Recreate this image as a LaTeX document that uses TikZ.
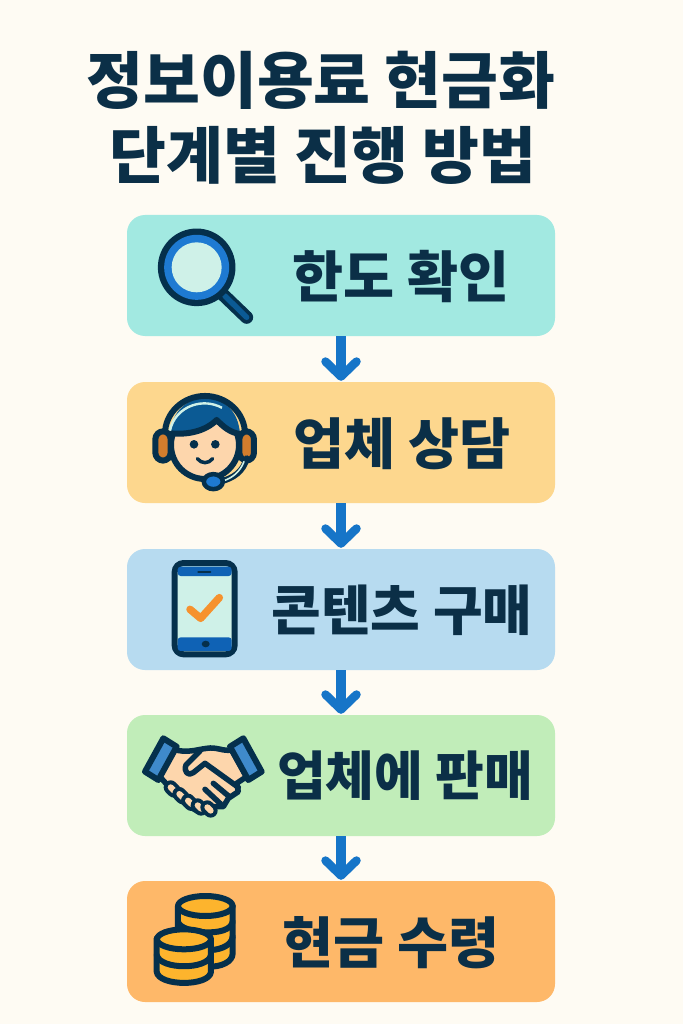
\documentclass[tikz,border=0pt]{standalone}
\usepackage{fontspec}
\usetikzlibrary{arrows.meta}
\newfontfamily\krfont{Noto Sans CJK KR}
\definecolor{bgc}{HTML}{FEFBF3}
\definecolor{ink}{HTML}{0B2F47}
\definecolor{inkb}{HTML}{05304C}
\definecolor{arrowc}{HTML}{1675C8}
\definecolor{cteal}{HTML}{A2E9E1}
\definecolor{cpeach}{HTML}{FDD78E}
\definecolor{csky}{HTML}{B7DBF0}
\definecolor{cgreen}{HTML}{C1EDB9}
\definecolor{corange}{HTML}{FEB869}
\definecolor{ibl}{HTML}{1E7AD2}
\definecolor{idb}{HTML}{0B5A94}
\definecolor{ilens}{HTML}{CFF1E8}
\definecolor{iskin}{HTML}{FDD6AC}
\definecolor{iear}{HTML}{D27D2D}
\definecolor{imid}{HTML}{3F8ACB}
\definecolor{iphone}{HTML}{0F62B5}
\definecolor{icheck}{HTML}{F6922E}
\definecolor{icoin}{HTML}{FDB42D}
\tikzset{
  stepbox/.style={rectangle,rounded corners=18pt,minimum width=428pt,minimum height=121pt,inner sep=0pt,draw=none},
  titletext/.style={text=ink,font=\krfont\bfseries\fontsize{61.8}{66}\selectfont,inner sep=0pt},
  labeltext/.style={text=ink,font=\krfont\bfseries\fontsize{55.5}{60}\selectfont,inner sep=0pt},
  labeltight/.style={text=ink,font=\krfont\bfseries\fontsize{54}{60}\selectfont,inner sep=0pt},
  labelnarrow/.style={text=ink,font=\krfont\bfseries\fontsize{53}{60}\selectfont,inner sep=0pt},
  flow/.style={draw=arrowc,line width=9.5pt,-{Straight Barb[round,length=15pt,width=31pt,line width=8.5pt]},shorten >=1pt},
  ic/.style={draw=inkb,line width=6pt,line join=round,line cap=round},
  zoomed/.style={x=0.3333pt,y=-0.3333pt}
}
\begin{document}
\begin{tikzpicture}[x=1pt,y=-1pt]
\fill[bgc] (0,0) rectangle (683,1024);
\useasboundingbox (0,0) rectangle (683,1024);
\node[titletext] (t1) at (321,80) {정보이용료 현금화};
\node[titletext] (t2) at (323,155) {단계별 진행 방법};
\node[stepbox,fill=cteal] (b1) at (341,275.5) {};
\node[stepbox,fill=cpeach] (b2) at (341,442.5) {};
\node[stepbox,fill=csky] (b3) at (341,609.5) {};
\node[stepbox,fill=cgreen] (b4) at (341,775.5) {};
\node[stepbox,fill=corange] (b5) at (341,941.5) {};
\node[labeltext] (l1) at (401,277) {한도 확인};
\node[labeltext] (l2) at (402,444) {업체 상담};
\node[labeltight] (l3) at (402,610) {콘텐츠 구매};
\node[labelnarrow] (l4) at (405,776) {업체에 판매};
\node[labeltext] (l5) at (391,943) {현금 수령};
\draw[flow] (b1.south) -- (b2.north);
\draw[flow] (b2.south) -- (b3.north);
\draw[flow] (b3.south) -- (b4.north);
\draw[flow] (b4.south) -- (b5.north);
% magnifier
\begin{scope}[shift={(130,210)},zoomed]
\draw[inkb,line width=13pt,line cap=round] (275,250) -- (350,322);
\draw[idb,line width=5.5pt,line cap=round] (285,258) -- (350,322);
\fill[inkb] (200,172) circle [radius=38.8pt];
\fill[ibl] (200,172) circle [radius=32.5pt];
\fill[ilens] (200,172) circle [radius=25pt];
\end{scope}
% headset
\begin{scope}[shift={(130,210)},zoomed]
\draw[ic,fill=iskin] (225,705) circle [radius=34pt];
\fill[idb] (122,670) .. controls (125,600) and (175,565) .. (225,565) .. controls (280,565) and (325,600) .. (330,672) .. controls (300,668) and (280,650) .. (260,630) .. controls (225,665) and (170,675) .. (122,670) -- cycle;
\draw[ic] (122,670) .. controls (170,675) and (225,665) .. (260,630) .. controls (280,650) and (300,668) .. (330,672);
\draw[draw=inkb,line width=6pt] (105,672) arc [start angle=180,end angle=0,x radius=40pt,y radius=38pt];
\draw[ilens,line width=2.4pt] (120,662) arc [start angle=170,end angle=60,x radius=35pt,y radius=33pt];
\draw[ic,fill=iear,rounded corners=8pt] (76,664) rectangle (122,752);
\draw[ic,fill=iear,rounded corners=8pt] (328,664) rectangle (372,752);
\fill[inkb] (192,703) circle [radius=4.3pt];
\fill[inkb] (256,703) circle [radius=4.3pt];
\draw[inkb,line width=3.5pt,line cap=round] (202,746) .. controls (215,762) and (235,762) .. (248,746);
\draw[inkb,line width=6pt,line cap=round] (270,815) .. controls (310,805) and (340,785) .. (350,745);
\draw[ilens,line width=1.6pt,line cap=round] (280,813) .. controls (310,802) and (330,785) .. (342,755);
\draw[ic,fill=ibl,line width=4.5pt] (250,815) ellipse [x radius=9.5pt,y radius=7.5pt];
\end{scope}
% phone
\begin{scope}[shift={(130,550)},zoomed]
\draw[inkb,line width=6pt,fill=ilens,rounded corners=9pt] (134,39) rectangle (314,313);
\fill[iphone,rounded corners=3pt] (143,50) rectangle (305,78);
\fill[iphone,rounded corners=3pt] (143,262) rectangle (305,303);
\draw[inkb,line width=2.3pt,line cap=round] (205,67) -- (241,67);
\fill[inkb] (227,282) ellipse [x radius=4pt,y radius=3.3pt];
\draw[icheck,line width=7.5pt,line cap=round,line join=round] (180,178) -- (212,205) -- (268,143);
\end{scope}
% handshake
\begin{scope}[shift={(130,550)},zoomed]
\draw[ic,fill=iskin,line width=5.5pt] (130,598) .. controls (170,610) and (195,600) .. (230,595) .. controls (260,590) and (280,605) .. (305,600) -- (350,680) -- (320,700) -- (325,725) -- (295,745) -- (280,770) -- (250,770) -- (235,785) -- (205,785) -- (170,765) -- (135,735) -- (112,705) -- (85,675) -- cycle;
\foreach \a/\b in {122/728,148/748,174/768,203/782,232/788}{
  \draw[inkb,line width=14pt,line cap=round] (\a,\b-16) -- (\a+10,\b-6);
  \draw[iskin,line width=6pt,line cap=round] (\a,\b-16) -- (\a+10,\b-6);
}
\draw[ic,line width=5.5pt,fill=iskin] (210,603) -- (168,645) .. controls (160,665) and (175,680) .. (190,668) -- (225,640) -- (325,712);
\draw[ic,line width=5.5pt] (250,700) -- (298,740);
\draw[ic,line width=5.5pt] (225,718) -- (272,762);
\draw[ic,fill=imid,line width=6pt] (100,565) -- (140,590) -- (85,690) -- (45,665) -- cycle;
\draw[ic,fill=imid,line width=6pt] (340,565) -- (300,590) -- (355,690) -- (395,665) -- cycle;
\end{scope}
% coins
\begin{scope}[shift={(130,830)},zoomed]
\draw[ic,fill=icoin] (144,228) -- (144,330) -- (230,410) .. controls (275,412) and (308,395) .. (308,370) -- (308,228) -- cycle;
\draw[ic] (144,275) .. controls (150,310) and (300,325) .. (308,275);
\draw[ic] (245,360) .. controls (275,358) and (305,345) .. (308,320);
\draw[ic,fill=icoin] (226,228) ellipse [x radius=27.3pt,y radius=10pt];
\draw[ic,fill=icoin] (80,325) -- (80,425) .. controls (85,470) and (240,470) .. (243,425) -- (243,330) -- cycle;
\draw[ic] (80,375) .. controls (90,420) and (235,420) .. (243,375);
\draw[ic,fill=icoin] (162,328) ellipse [x radius=27pt,y radius=10pt];
\end{scope}
\end{tikzpicture}
\end{document}
